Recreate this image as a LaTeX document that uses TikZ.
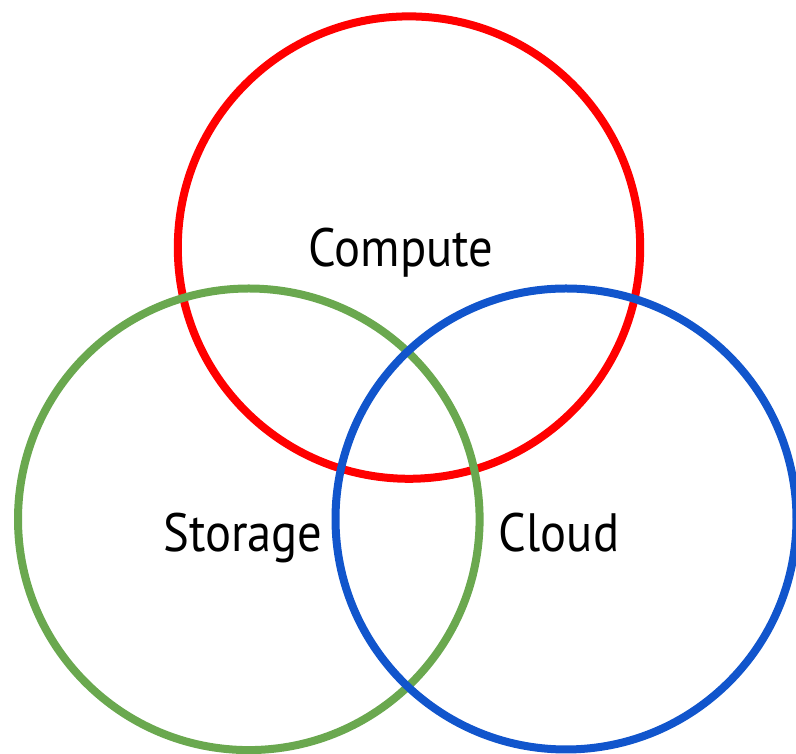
\documentclass[tikz,border=0pt]{standalone}
\usepackage{fontspec}
\setmainfont{PT Sans}
\definecolor{cred}{HTML}{FF0000}
\definecolor{cgreen}{HTML}{6AA84F}
\definecolor{cblue}{HTML}{1155CC}
\begin{document}
\begin{tikzpicture}[x=1pt,y=1pt,
  ring/.style={line width=8pt},
  lbl/.style={font=\fontsize{54}{60}\selectfont, inner sep=0pt, xscale=0.9}]
\useasboundingbox (0,0) rectangle (796,754);
\draw[ring, cred] (409,506.4) circle (231.2);
\draw[ring, cgreen] (248.8,234.7) circle (230.8);
\draw[ring, cblue] (566,235) circle (230.5);
\node[lbl, anchor=base] (compute) at (401,487) {Compute};
\node[lbl, anchor=base] (storage) at (243,202) {Storage};
\node[lbl, anchor=base] (cloud) at (559,202) {Cloud};
\end{tikzpicture}
\end{document}
